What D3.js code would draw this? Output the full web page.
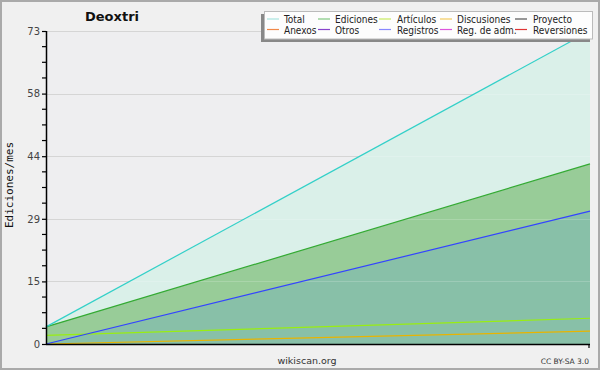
<!DOCTYPE html>
<html><head><meta charset="utf-8">
<script src="https://cdn.jsdelivr.net/npm/d3@7/dist/d3.min.js"></script>
<style>body{margin:0;background:#f0f0f0}svg{display:block}</style>
</head><body><svg id="c" width="600" height="370"></svg>
<script>
const periods = ["p1", "p2"];
const total = [4, 73];
const ediciones = [4, 42];
const registros = [0, 31];
const articulos = [2, 6];
const discusiones = [0, 3];
const yTickValues = [0, 14.6, 29.2, 43.8, 58.4, 73];
const yTickLabels = ["0", "15", "29", "44", "58", "73"];
const legendRow1 = ["Total", "Ediciones", "Artículos", "Discusiones", "Proyecto"];
const legendRow2 = ["Anexos", "Otros", "Registros", "Reg. de adm.", "Reversiones"];
const legendColors1 = ["#a8e4e0", "#80c880", "#c8ec60", "#f4cc60", "#555555"];
const legendColors2 = ["#f08848", "#8844cc", "#8888ff", "#dd55dd", "#e03434"];

const svg = d3.select("#c");
const W = 600, H = 370;
const L = 46, R = 590, T = 31, B = 344;
svg.append("rect").attr("x",1).attr("y",1).attr("width",W-2).attr("height",H-2)
  .attr("fill","#f0f0f0").attr("stroke","#aaaaaa").attr("stroke-width",2);
svg.append("rect").attr("x",L).attr("y",T).attr("width",R-L).attr("height",B-T).attr("fill","#eeeef0");

const x = d3.scalePoint().domain(periods).range([L, R]).padding(0);
const y = d3.scaleLinear().domain([0, 73]).range([B, T]);

svg.append("g").selectAll("line").data(yTickValues.slice(1)).join("line")
  .attr("x1",L).attr("x2",R).attr("y1",d=>Math.round(y(d))+0.5).attr("y2",d=>Math.round(y(d))+0.5)
  .attr("stroke","#cccccc");

function area(vals, fill) {
  const a = d3.area().x((d,i)=>x(periods[i])).y0(B).y1(d=>y(d));
  svg.append("path").datum(vals).attr("d", a).attr("fill", fill);
}
area(total, "#daf0e9");
area(ediciones, "#98cc98");
area(registros, "#88c0a8");

svg.append("g").selectAll("line").data(yTickValues.slice(1)).join("line")
  .attr("x1",L).attr("x2",R).attr("y1",d=>Math.round(y(d))+0.5).attr("y2",d=>Math.round(y(d))+0.5)
  .attr("stroke","#ffffff").attr("stroke-opacity",0.18);

function line(vals, color) {
  const l = d3.line().x((d,i)=>x(periods[i])).y(d=>y(d));
  svg.append("path").datum(vals).attr("d", l).attr("fill","none").attr("stroke",color).attr("stroke-width",1.2);
}
line(discusiones, "#e8b400");
line(articulos, "#99ee11");
line(registros, "#3344ff");
line(ediciones, "#33aa33");
line(total, "#33d0c8");

const yAxis = d3.axisLeft(y).tickValues(yTickValues).tickSize(4).tickFormat((d,i)=>yTickLabels[i]);
const gy = svg.append("g").attr("transform",`translate(${L},0)`).call(yAxis);
gy.select(".domain").attr("stroke","#000").attr("stroke-width",1.5).attr("d",`M0.5,${T}V${B}`);
gy.selectAll(".tick line").attr("stroke","#000").attr("stroke-width",1.2);
gy.selectAll(".tick text").attr("font-family","DejaVu Sans").attr("font-size",10).attr("fill","#444").attr("dx",1);
const minor = d3.range(0, 73.01, 3.65).filter((d,i)=>i%4!==0);
svg.append("g").selectAll("line").data(minor).join("line")
  .attr("x1",L-4).attr("x2",L).attr("y1",d=>y(d)).attr("y2",d=>y(d)).attr("stroke","#000").attr("stroke-width",1.2);

svg.append("line").attr("x1",L).attr("x2",R).attr("y1",B+0.5).attr("y2",B+0.5).attr("stroke","#000").attr("stroke-width",1.5);
svg.append("line").attr("x1",R-1).attr("x2",R-1).attr("y1",B).attr("y2",B+4).attr("stroke","#000").attr("stroke-width",1.2);

svg.append("text").attr("x",85).attr("y",21).text("Deoxtri")
  .attr("font-family","DejaVu Sans").attr("font-weight","bold").attr("font-size",13).attr("fill","#111");
svg.append("text").attr("transform","translate(13,185) rotate(-90)").attr("text-anchor","middle")
  .text("Ediciones/mes").attr("font-family","DejaVu Sans Mono").attr("font-size",11).attr("fill","#111");
svg.append("text").attr("x",307).attr("y",364).attr("text-anchor","middle").text("wikiscan.org")
  .attr("font-family","DejaVu Sans").attr("font-size",9.5).attr("fill","#333");
svg.append("text").attr("x",589).attr("y",364).attr("text-anchor","end").text("CC BY-SA 3.0")
  .attr("font-family","DejaVu Sans").attr("font-size",7.5).attr("fill","#333");

const lg = svg.append("g");
lg.append("rect").attr("x",261).attr("y",14).attr("width",329).attr("height",28).attr("fill","#888");
lg.append("rect").attr("x",264.5).attr("y",11.5).attr("width",328).attr("height",27.5).attr("fill","#fdfdfd").attr("stroke","#bbb");
const colX = [267, 318, 379, 440, 515];
const textX = [284, 335, 397, 457, 533];
[[legendRow1, legendColors1, 19], [legendRow2, legendColors2, 29.5]].forEach(([labels, colors, cy]) => {
  labels.forEach((t, i) => {
    lg.append("line").attr("x1",colX[i]).attr("x2",colX[i]+12).attr("y1",cy).attr("y2",cy).attr("stroke",colors[i]).attr("stroke-width",1.2);
    lg.append("text").attr("x",textX[i]).attr("y",cy+4).text(t)
      .attr("font-family","DejaVu Sans Condensed, DejaVu Sans").attr("font-stretch","condensed")
      .attr("font-size",10).attr("fill","#222");
  });
});
</script></body></html>
